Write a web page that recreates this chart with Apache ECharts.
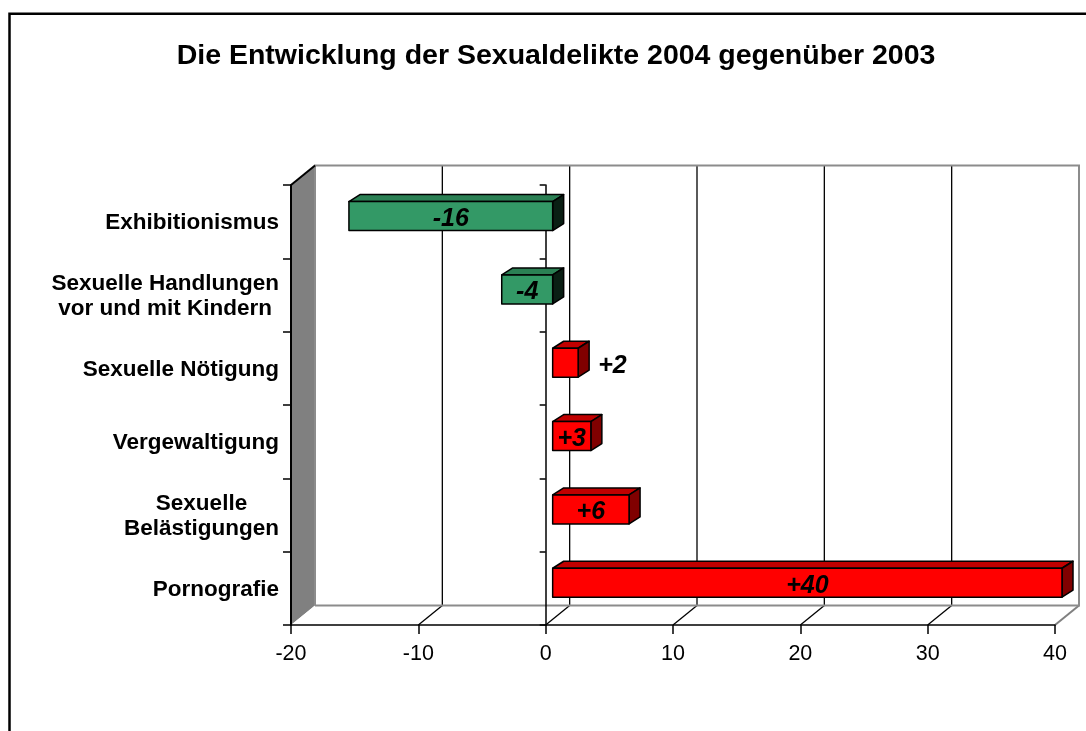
<!DOCTYPE html>
<html><head><meta charset="utf-8">
<script src="https://cdn.jsdelivr.net/npm/echarts@6/dist/echarts.min.js"></script>
<style>html,body{margin:0;padding:0;background:#fff}#c{width:1086px;height:731px}</style>
</head><body><div id="c"></div>
<script>
const TITLE = 'Die Entwicklung der Sexualdelikte 2004 gegenüber 2003';
const CATEGORIES = ['Exhibitionismus', 'Sexuelle Handlungen\nvor und mit Kindern', 'Sexuelle Nötigung', 'Vergewaltigung', 'Sexuelle\nBelästigungen', 'Pornografie'];
const VALUES = [-16, -4, 2, 3, 6, 40];
const VALUE_LABELS = ['-16', '-4', '+2', '+3', '+6', '+40'];
const X_TICKS = [-20, -10, 0, 10, 20, 30, 40];

const FONT = '"Liberation Sans", Arial, Helvetica, sans-serif';
const DX = 24, DY = -19.5;          // frame depth offset
const BAR_OX = 7, BAR_OY = -5.6;    // bar front face position inside the depth
const BDX = 11, BDY = -7;           // bar depth

const chart = echarts.init(document.getElementById('c'), null, {renderer: 'canvas'});

function renderFrame(params, api) {
  const cs = params.coordSys;
  const top = cs.y, bottom = cs.y + cs.height;
  const left = cs.x, right = cs.x + cs.width;
  const ch = [];
  ch.push({type: 'polygon', shape: {points: [[left, top], [left + DX, top + DY], [left + DX, bottom + DY], [left, bottom]]},
    style: {fill: '#808080'}});
  ch.push({type: 'polygon', shape: {points: [[left, bottom], [right, bottom], [right + DX, bottom + DY], [left + DX, bottom + DY]]},
    style: {fill: '#ffffff'}});
  const n = X_TICKS.length;
  X_TICKS.forEach((t, k) => {
    const x = api.coord([t, 0])[0];
    if (k > 0 && k < n - 1) {
      ch.push({type: 'line', shape: {x1: x + DX, y1: top + DY, x2: x + DX, y2: bottom + DY},
        style: {stroke: '#000', lineWidth: 1.3}});
    }
    if (k > 0) {
      ch.push({type: 'line', shape: {x1: x, y1: bottom, x2: x + DX, y2: bottom + DY},
        style: {stroke: k === n - 1 ? '#808080' : '#000', lineWidth: k === n - 1 ? 2 : 1.3}});
    }
  });
  ch.push({type: 'polyline', shape: {points: [[left + DX, bottom + DY], [left + DX, top + DY], [right + DX, top + DY], [right + DX, bottom + DY], [left + DX, bottom + DY]]},
    style: {stroke: '#8c8c8c', lineWidth: 2, fill: null}});
  ch.push({type: 'line', shape: {x1: left, y1: top, x2: left + DX, y2: top + DY},
    style: {stroke: '#000', lineWidth: 2}});
  return {type: 'group', children: ch};
}

function renderBar(params, api) {
  const v = api.value(0), i = api.value(1);
  const p0 = api.coord([0, i]), p1 = api.coord([v, i]);
  const band = api.size([0, 1])[1];
  const h = band * 0.395;
  const xl = Math.min(p0[0], p1[0]) + BAR_OX, xr = Math.max(p0[0], p1[0]) + BAR_OX;
  const yc = p0[1] + BAR_OY, yt = yc - h / 2, yb = yc + h / 2;
  const pos = v >= 0;
  const fc = pos ? '#FF0000' : '#339966';
  const tc = pos ? '#C00000' : '#2B8054';
  const sc = pos ? '#800000' : '#0A1F14';
  const st = {stroke: '#000', lineWidth: 1.5, lineJoin: 'round'};
  const ch = [
    {type: 'polygon', shape: {points: [[xl, yt], [xr, yt], [xr + BDX, yt + BDY], [xl + BDX, yt + BDY]]}, style: Object.assign({fill: tc}, st)},
    {type: 'polygon', shape: {points: [[xr, yt], [xr + BDX, yt + BDY], [xr + BDX, yb + BDY], [xr, yb]]}, style: Object.assign({fill: sc}, st)},
    {type: 'rect', shape: {x: xl, y: yt, width: xr - xl, height: h}, style: Object.assign({fill: fc}, st)}
  ];
  const outside = (xr - xl) < 30;
  ch.push({type: 'text', style: {
    text: VALUE_LABELS[params.dataIndex],
    x: outside ? xr + BDX + 9 : (xl + xr) / 2,
    y: yc + 3,
    align: outside ? 'left' : 'center', verticalAlign: 'middle',
    font: 'italic bold 25px ' + FONT, fill: '#000'
  }});
  return {type: 'group', children: ch};
}

const option = {
  backgroundColor: '#fff',
  animation: false,
  title: {
    text: TITLE, left: 551, top: 37, textAlign: 'center',
    textStyle: {fontSize: 28.5, fontWeight: 'bold', fontFamily: FONT, color: '#000'}
  },
  grid: {left: 291, right: 31, top: 185, bottom: 106, containLabel: false, outerBoundsMode: 'none'},
  xAxis: {
    type: 'value', min: -20, max: 40, interval: 10,
    axisLine: {show: true, onZero: false, lineStyle: {color: '#000', width: 1.5}},
    axisTick: {show: true, length: 9, lineStyle: {color: '#000', width: 1.5}},
    axisLabel: {margin: 18, fontSize: 21.5, fontFamily: FONT, color: '#000'},
    splitLine: {show: false},
    z: 2
  },
  yAxis: [{
    type: 'category', data: CATEGORIES, inverse: true, position: 'left',
    axisLine: {show: true, onZero: false, lineStyle: {color: '#000', width: 2}},
    axisTick: {show: true, length: 8, lineStyle: {color: '#000', width: 1.5}},
    axisLabel: {
      margin: 12, color: '#000', fontSize: 22.5, fontWeight: 'bold', fontFamily: FONT,
      formatter: v => v.split('\n').map(s => '{c|' + s + '}').join('\n'),
      rich: {c: {align: 'center', fontSize: 22.5, fontWeight: 'bold', fontFamily: FONT, lineHeight: 25, color: '#000', padding: [3, 0, 0, 0]}}
    },
    splitLine: {show: false},
    z: 2
  }, {
    type: 'category', data: CATEGORIES, inverse: true, position: 'left',
    axisLine: {show: true, onZero: true, lineStyle: {color: '#000', width: 1.5}},
    axisTick: {show: true, length: 6, lineStyle: {color: '#000', width: 1.5}},
    axisLabel: {show: false},
    splitLine: {show: false},
    z: 2
  }],
  graphic: [{
    type: 'polyline', silent: true,
    shape: {points: [[9.5, 731], [9.5, 13.8], [1086, 13.8]]},
    style: {stroke: '#000', lineWidth: 2.5, fill: null}
  }],
  series: [{
    type: 'custom', name: 'frame', silent: true, clip: false, z: 1,
    xAxisIndex: 0, yAxisIndex: 0,
    data: [[0, 0]],
    renderItem: renderFrame
  }, {
    type: 'custom', name: 'Veränderung', silent: true, clip: false, z: 3,
    xAxisIndex: 0, yAxisIndex: 0,
    encode: {x: 0, y: 1},
    data: VALUES.map((v, i) => [v, i]),
    renderItem: renderBar
  }]
};
chart.setOption(option);
</script>
</body></html>
